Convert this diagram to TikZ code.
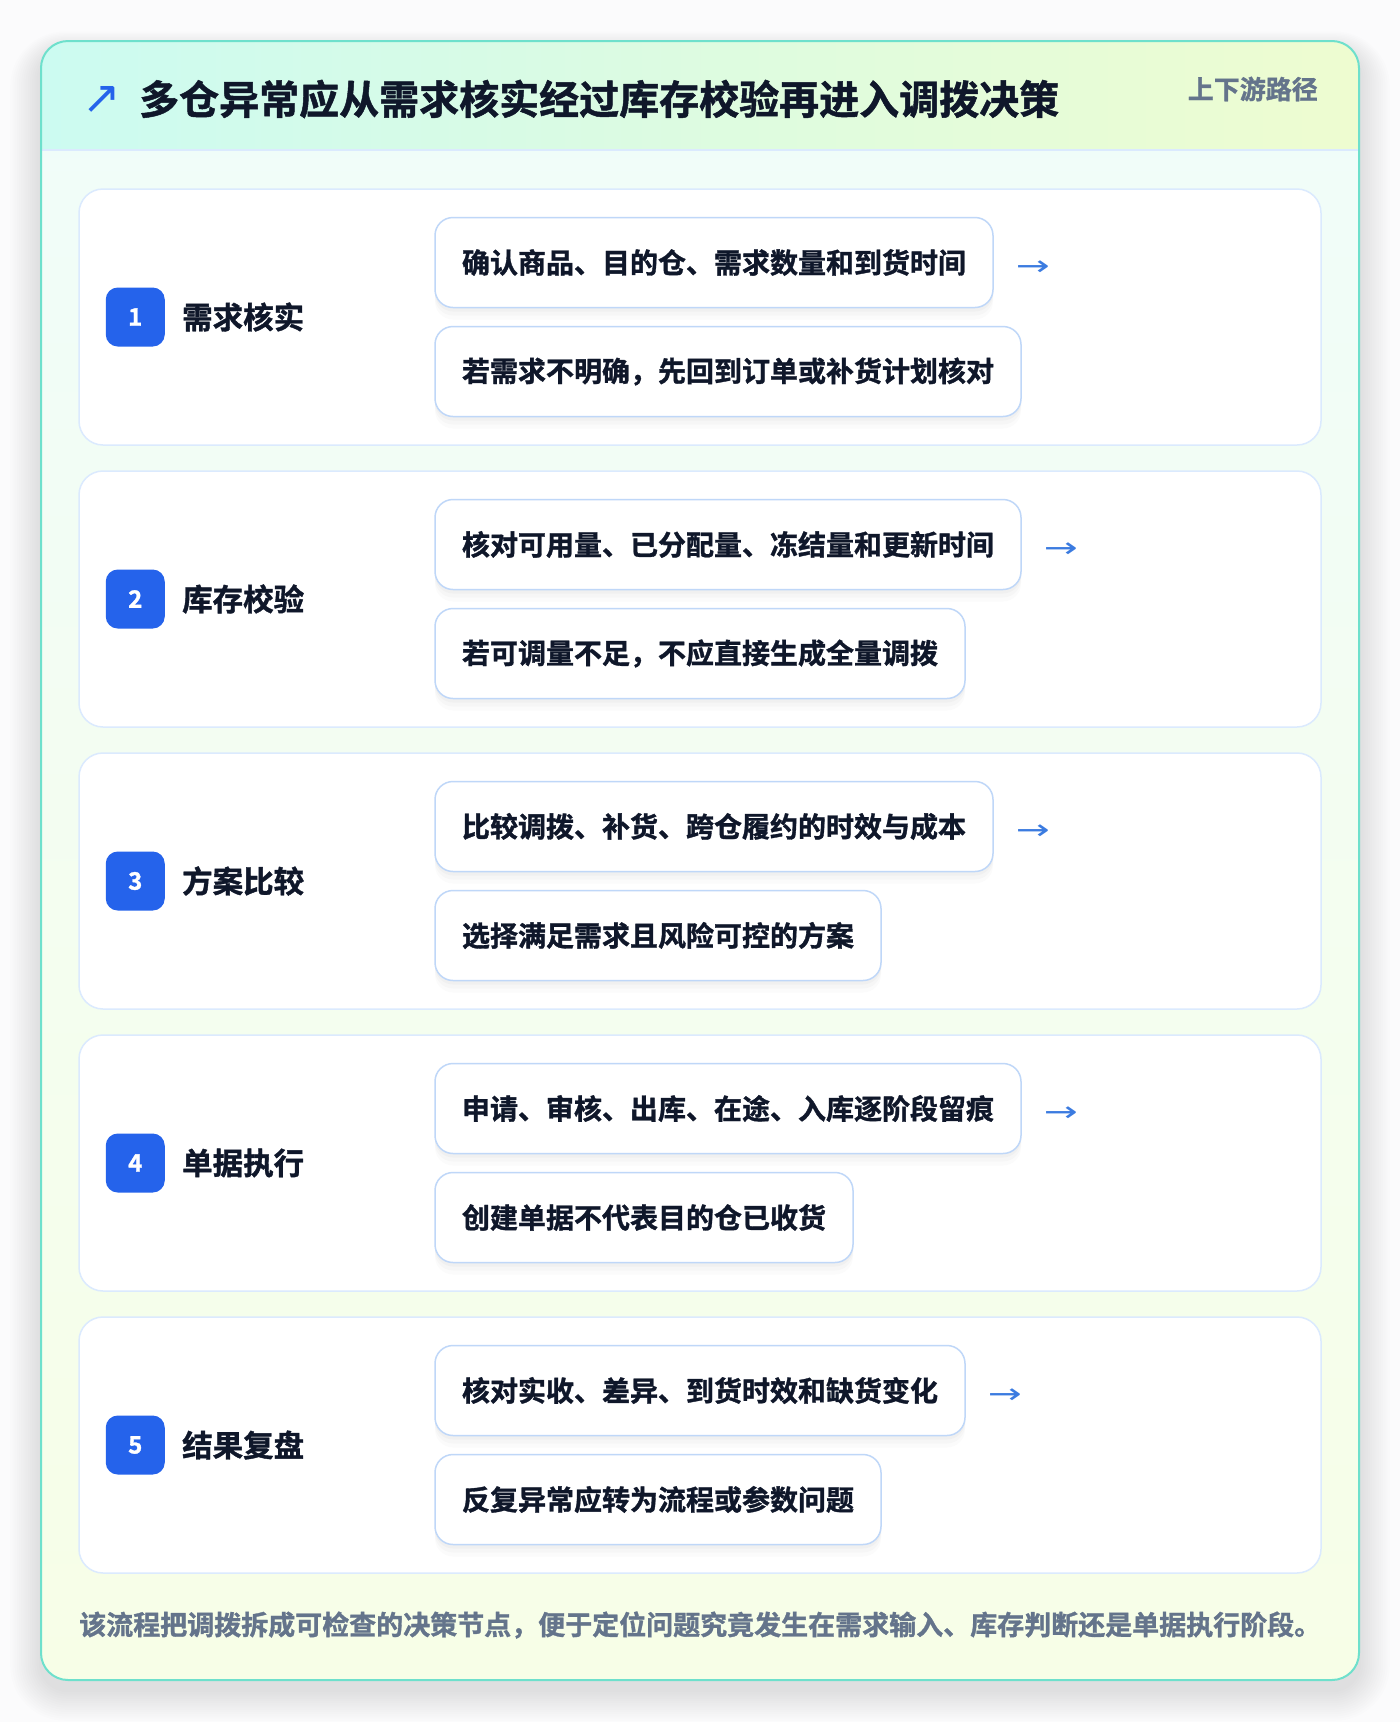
\documentclass[tikz,border=0pt]{standalone}
\usepackage{fontspec}
\setmainfont{Noto Sans CJK SC}[BoldFont={Noto Sans CJK SC Bold}, BoldFeatures={FakeBold=1.2}]
\newfontfamily\symfont{DejaVu Sans}
\usetikzlibrary{positioning,calc}

\definecolor{pagebg}{HTML}{FBFBFC}
\definecolor{cardline}{HTML}{6EE0CC}
\definecolor{headleft}{HTML}{CCFBF1}
\definecolor{headright}{HTML}{EEFCD0}
\definecolor{bodytop}{HTML}{F0FDFA}
\definecolor{bodybottom}{HTML}{F7FEE7}
\definecolor{panelline}{HTML}{DBEAFE}
\definecolor{itemline}{HTML}{BFD7F8}
\definecolor{badgeblue}{HTML}{2563EB}
\definecolor{arrowblue}{HTML}{3B7BE0}
\definecolor{ink}{HTML}{0F172A}
\definecolor{muted}{HTML}{64748B}

\tikzset{
  panel/.style={draw=panelline, line width=1.5pt, fill=white, rounded corners=24pt,
    minimum width=1242pt, minimum height=256pt, inner sep=0pt},
  badge/.style={fill=badgeblue, rounded corners=12pt, minimum size=59pt, inner sep=0pt,
    text=white, font=\fontsize{24}{24}\selectfont\bfseries},
  steplabel/.style={inner sep=0pt, text=ink, font=\fontsize{30.5}{30.5}\selectfont\bfseries},
  itembox/.style={draw=itemline, line width=1.5pt, fill=white, rounded corners=18pt,
    minimum height=90pt, inner xsep=27pt, inner ysep=0pt, anchor=west, text=ink,
    font=\fontsize{28}{28}\selectfont\bfseries,
    preaction={fill=black, opacity=0.025, transform canvas={yshift=-4pt}},
    preaction={fill=black, opacity=0.02, transform canvas={yshift=-8pt}},
    preaction={fill=black, opacity=0.015, transform canvas={yshift=-12pt}}},
  nextarrow/.style={inner sep=0pt, text=arrowblue, font=\symfont\fontsize{28}{28}\selectfont}
}

\begin{document}
\begin{tikzpicture}[x=1pt,y=-1pt]
  \useasboundingbox (0,0) rectangle (1400,1722);
  \fill[pagebg] (0,0) rectangle (1400,1722);

  % soft shadow under the card
  \foreach \k in {1,...,14} {
    \fill[black, opacity=0.007, rounded corners=27pt+\k*2pt]
      (41-\k*2.2, 41-\k*1.4+10) rectangle (1359+\k*2.2, 1680+\k*2.2+10);
  }

  % card and header band
  \fill[rounded corners=27pt, top color=bodytop, bottom color=bodybottom]
    (41,41) rectangle (1359,1680);
  \begin{scope}
    \clip[rounded corners=27pt] (41,41) rectangle (1359,1680);
    \fill[left color=headleft, right color=headright] (41,41) rectangle (1359,150);
  \end{scope}
  \draw[panelline, line width=2pt] (41,150) -- (1359,150);
  \draw[cardline, line width=2pt, rounded corners=27pt] (41,41) rectangle (1359,1680);

  \node[inner sep=0pt, text=badgeblue, font=\symfont\fontsize{46}{46}\selectfont] (icon) at (102,100) {↗};
  \node[inner sep=0pt, anchor=west, text=ink, font=\fontsize{40}{40}\selectfont\bfseries] (title)
    at (139,99) {多仓异常应从需求核实经过库存校验再进入调拨决策};
  \node[inner sep=0pt, anchor=east, text=muted, font=\fontsize{26}{26}\selectfont\bfseries] (tag)
    at (1318,89) {上下游路径};

  % steps
  \foreach \i/\lab/\ta/\tb in {
    1/需求核实/确认商品、目的仓、需求数量和到货时间/若需求不明确，先回到订单或补货计划核对,
    2/库存校验/核对可用量、已分配量、冻结量和更新时间/若可调量不足，不应直接生成全量调拨,
    3/方案比较/比较调拨、补货、跨仓履约的时效与成本/选择满足需求且风险可控的方案,
    4/单据执行/申请、审核、出库、在途、入库逐阶段留痕/创建单据不代表目的仓已收货,
    5/结果复盘/核对实收、差异、到货时效和缺货变化/反复异常应转为流程或参数问题%
  } {
    \pgfmathsetmacro\cy{189+(\i-1)*282+128}
    \node[panel] (p\i) at (700,\cy) {};
    \node[badge] (b\i) at ([xshift=57pt]p\i.west) {\i};
    \node[steplabel, right=17pt of b\i] (l\i) {\lab};
    \node[itembox] (a\i) at ([xshift=356pt, yshift=54.5pt]p\i.west) {\ta};
    \node[itembox] (c\i) at ([xshift=356pt, yshift=-54.5pt]p\i.west) {\tb};
    \node[nextarrow, right=22pt of a\i, yshift=-6pt] (n\i) {\scalebox{1.45}[1]{→}};
  }

  \node[inner sep=0pt, anchor=west, text=muted, font=\fontsize{27}{27}\selectfont\bfseries] (note)
    at (79,1625) {该流程把调拨拆成可检查的决策节点，便于定位问题究竟发生在需求输入、库存判断还是单据执行阶段。};
\end{tikzpicture}
\end{document}
